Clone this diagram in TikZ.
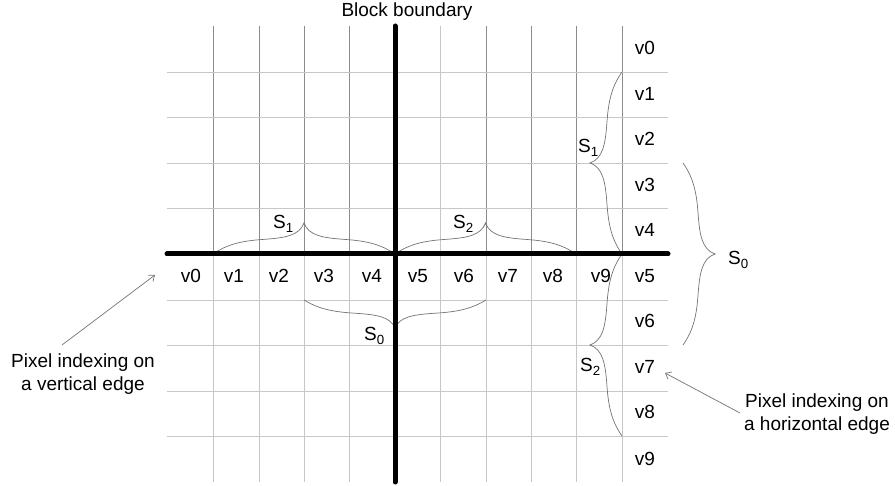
\documentclass[tikz,border=0pt]{standalone}
\usepackage{fontspec}
\setmainfont{Liberation Sans}
\usetikzlibrary{arrows.meta}
\def\hbracepath{(0,0) .. controls (0.15,0.3) and (0.3,0.42) .. (0.55,0.47) .. controls (0.8,0.52) and (0.95,0.6) .. (1,1) .. controls (1.05,0.6) and (1.2,0.52) .. (1.45,0.47) .. controls (1.7,0.42) and (1.85,0.3) .. (2,0)}
\def\vbracepath{(0,0) .. controls (0.3,0.15) and (0.42,0.3) .. (0.47,0.55) .. controls (0.52,0.8) and (0.6,0.95) .. (1,1) .. controls (0.6,1.05) and (0.52,1.2) .. (0.47,1.45) .. controls (0.42,1.7) and (0.3,1.85) .. (0,2)}
\begin{document}
\begin{tikzpicture}[x=1pt,y=-1pt,
  darkgrid/.style={draw=black!45, line width=0.9pt},
  lightgrid/.style={draw=black!22, line width=0.9pt},
  boundary/.style={draw=black, line width=5pt, line cap=round},
  bracestyle/.style={draw=black!55, line width=0.7pt},
  lbl/.style={font=\fontsize{19}{22}\selectfont, inner sep=0pt, anchor=base},
  slbl/.style={font=\fontsize{19}{22}\selectfont, inner sep=0pt, anchor=base west},
  note/.style={font=\fontsize{19}{22.5}\selectfont, inner sep=0pt, align=center},
  arr/.style={draw=black!55, line width=0.7pt, -{Straight Barb[length=5pt,width=8pt]}},
]
\useasboundingbox (0,0) rectangle (895,486);
% grid
\foreach \x in {213,259,304,349,486,531,576,622} \draw[darkgrid] (\x,26) -- (\x,254);
\draw[lightgrid] (440,26) -- (440,254);
\foreach \x in {213,259,304,349,440,486,531,576,622} \draw[lightgrid] (\x,254) -- (\x,482);
\foreach \y in {72,117,163,208,300,345,391,436} \draw[lightgrid] (167,\y) -- (668,\y);
% braces
\begin{scope}[shift={(213,254)}, xscale=91, yscale=-31]
  \draw[bracestyle] \hbracepath;
\end{scope}
\begin{scope}[shift={(395,254)}, xscale=90.5, yscale=-31]
  \draw[bracestyle] \hbracepath;
\end{scope}
\begin{scope}[shift={(304,300)}, xscale=91, yscale=28]
  \draw[bracestyle] \hbracepath;
\end{scope}
\begin{scope}[shift={(622,72)}, xscale=-32, yscale=91]
  \draw[bracestyle] \vbracepath;
\end{scope}
\begin{scope}[shift={(622,254)}, xscale=-32, yscale=91]
  \draw[bracestyle] \vbracepath;
\end{scope}
\begin{scope}[shift={(683,163)}, xscale=32, yscale=91]
  \draw[bracestyle] \vbracepath;
\end{scope}
% block boundaries
\draw[boundary] (395,26) -- (395,482);
\draw[boundary] (167,254) -- (668,254);
% labels
\node[lbl] (title) at (407,17) {Block boundary};
\foreach \x [count=\i from 0] in {191,234,279,324,372,418,464,508,553,601}
  \node[lbl] (h\i) at (\x,283) {v\i};
\foreach \y [count=\i from 0] in {55,101,146,192,237,283,328,374,419,465}
  \node[lbl] (c\i) at (645,\y) {v\i};
\node[slbl] (s1h) at (273,229) {S\textsubscript{1}};
\node[slbl] (s2h) at (453,229) {S\textsubscript{2}};
\node[slbl] (s0h) at (364,341) {S\textsubscript{0}};
\node[slbl] (s1v) at (578,153) {S\textsubscript{1}};
\node[slbl] (s2v) at (580,372) {S\textsubscript{2}};
\node[slbl] (s0v) at (728,265) {S\textsubscript{0}};
% notes and arrows
\node[note] (vnote) at (83,374) {Pixel indexing on\\a vertical edge};
\node[note] (hnote) at (817,414) {Pixel indexing on\\a horizontal edge};
\coordinate (vstart) at (62,345);
\coordinate (vend) at (155,275);
\coordinate (hstart) at (740,413);
\coordinate (hend) at (665,373);
\draw[arr] (vstart) -- (vend);
\draw[arr] (hstart) -- (hend);
\end{tikzpicture}
\end{document}
